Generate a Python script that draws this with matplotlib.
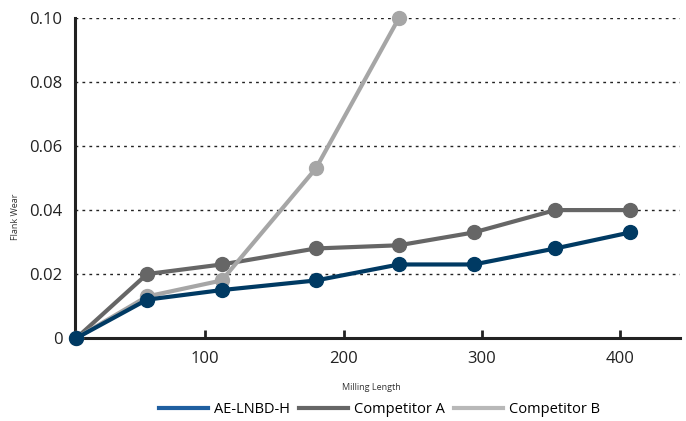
import matplotlib.pyplot as plt

# milling length values
length_ae = [7, 58, 112, 180, 240, 294, 353, 407]
length_a = [7, 58, 112, 180, 240, 294, 353, 407]
length_b = [7, 58, 112, 180, 240]

wear_ae = [0, 0.012, 0.015, 0.018, 0.023, 0.023, 0.028, 0.033]
wear_a = [0, 0.020, 0.023, 0.028, 0.029, 0.033, 0.040, 0.040]
wear_b = [0, 0.013, 0.018, 0.053, 0.100]

x_ticks = [100, 200, 300, 400]
y_ticks = [0, 0.02, 0.04, 0.06, 0.08, 0.10]
y_tick_labels = ["0", "0.02", "0.04", "0.06", "0.08", "0.10"]

plt.rcParams["font.family"] = ["Open Sans", "DejaVu Sans"]

fig = plt.figure(figsize=(6.86, 4.21), dpi=100)
ax = fig.add_axes([0.109, 0.197, 0.882, 0.760])

# gridlines
for y in y_ticks[1:]:
    ax.axhline(y, color="#222222", linestyle=(0, (2, 3)), linewidth=1.0, zorder=1)

ax.plot(length_a, wear_a, color="#666666", linewidth=3, marker="o",
        markersize=10, zorder=3)
ax.plot(length_b, wear_b, color="#a6a6a6", linewidth=3, marker="o",
        markersize=10, zorder=4, clip_on=False)
ax.plot(length_ae, wear_ae, color="#003a63", linewidth=3, marker="o",
        markersize=10, zorder=5, clip_on=False)

# legend handles
ax.plot([], [], color="#1f5fa0", linewidth=3, label="AE-LNBD-H")
ax.plot([], [], color="#666666", linewidth=3, label="Competitor A")
ax.plot([], [], color="#b8b8b8", linewidth=3, label="Competitor B")

ax.set_xlim(5.8, 443)
ax.set_ylim(0, 0.10)
ax.set_xticks(x_ticks)
ax.set_yticks(y_ticks)
ax.set_yticklabels(y_tick_labels)
ax.tick_params(axis="x", direction="in", length=6, width=2, labelsize=12,
               pad=9, colors="#222222")
ax.tick_params(axis="y", length=0, labelsize=12, pad=9, colors="#222222")

for side in ["top", "right"]:
    ax.spines[side].set_visible(False)
for side in ["left", "bottom"]:
    ax.spines[side].set_linewidth(2.2)
    ax.spines[side].set_color("#222222")

ax.set_xlabel("Milling Length", fontsize=6.5, color="#333333")
ax.set_ylabel("Flank Wear", fontsize=6.5, color="#333333")
ax.xaxis.set_label_coords(0.49, -0.14)
ax.yaxis.set_label_coords(-0.09, 0.38)

fig.legend(loc="center", bbox_to_anchor=(0.553, 0.027), ncol=3,
           frameon=False, fontsize=10.5, handlelength=3.4, handletextpad=0.4,
           columnspacing=0.6)

fig.savefig("out.png", dpi=100)
